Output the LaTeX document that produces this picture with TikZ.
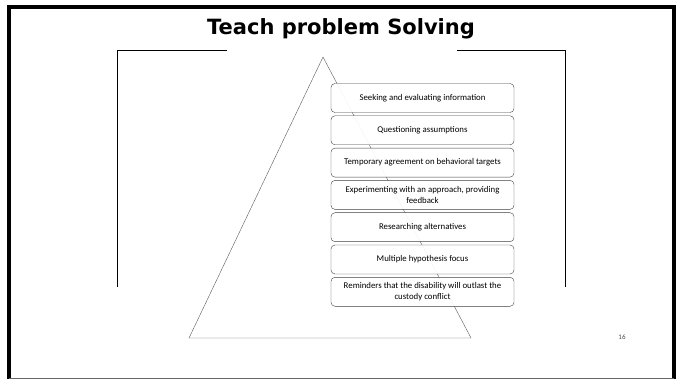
\documentclass[tikz,border=0pt]{standalone}
\usepackage{fontspec}
\setmainfont{Carlito}
\newfontfamily\titlefont{DejaVu Sans}
\begin{document}
\begin{tikzpicture}[x=1pt, y=-1pt,
  stepbox/.style={draw=black!75, rounded corners=4pt, fill=white, fill opacity=0.93,
    text opacity=1, minimum width=183pt, minimum height=29pt,
    align=center, inner sep=1pt, font=\fontsize{8.8}{10.5}\selectfont}]
  \useasboundingbox (0,0) rectangle (682,379);

  % slide frame
  \draw[line width=4pt] (9,379) -- (9,7.5) -- (674,7.5) -- (674,379);
  \draw[black!60, line width=1pt] (9,378) -- (674,378);

  \node (title) at (341,29) {\titlefont\bfseries\fontsize{21}{24}\selectfont Teach problem Solving};

  % brackets
  \draw[thick] (227,50.5) -- (117.5,50.5) -- (117.5,287);
  \draw[thick] (457,50.5) -- (565,50.5) -- (565,287);

  % pyramid
  \draw[black!65] (323,57) -- (471,338) -- (189,338) -- cycle;

  \foreach \t [count=\i from 0] in {
      Seeking and evaluating information,
      Questioning assumptions,
      Temporary agreement on behavioral targets,
      {Experimenting with an approach, providing\\feedback},
      Researching alternatives,
      Multiple hypothesis focus,
      Reminders that the disability will outlast the\\custody conflict} {
    \node[stepbox] (s\i) at (422.5, 98+32.3*\i) {\t};
  }

  \node[black!70, font=\fontsize{7}{8}\selectfont] (page) at (622,337) {16};
\end{tikzpicture}
\end{document}
